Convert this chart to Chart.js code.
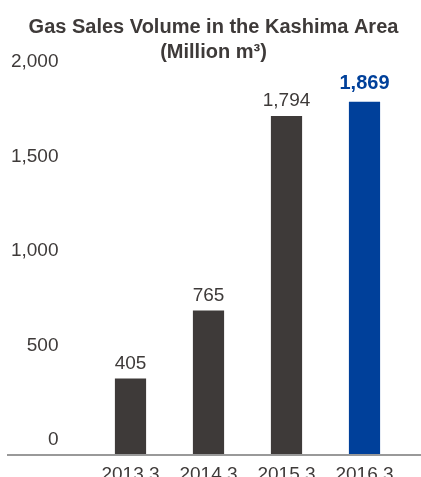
<!DOCTYPE html>
<html>
<head>
<meta charset="utf-8">
<script src="https://cdn.jsdelivr.net/npm/chart.js@4"></script>
<style>
  html, body { margin:0; padding:0; background:#fff; overflow:hidden; }
  canvas { display:block; }
</style>
</head>
<body>
<canvas id="chart" width="421" height="477"></canvas>
<script>
// ── data ──────────────────────────────────────────────────────────────────
const YEARS = ["2013.3", "2014.3", "2015.3", "2016.3"];
const VOLUMES = [405, 765, 1794, 1869];
const Y_TICKS = [0, 500, 1000, 1500, 2000];
const TITLE = ["Gas Sales Volume in the Kashima Area", "(Million m\u00B3)"];

const DARK = "#3e3a39";
const BLUE = "#00409a";
const BAR_COLORS = [DARK, DARK, DARK, BLUE];
const FONT = "'Liberation Sans', Helvetica, Arial, sans-serif";

Chart.defaults.font.family = FONT;
Chart.defaults.color = DARK;

// baseline running past the plot to the right edge
const baseline = {
  id: "baseline",
  afterDraw(chart) {
    const { ctx, scales: { y } } = chart;
    const py = Math.round(y.getPixelForValue(0));
    ctx.save();
    ctx.strokeStyle = "#999999";
    ctx.lineWidth = 2;
    ctx.beginPath();
    ctx.moveTo(7, py);
    ctx.lineTo(chart.width, py);
    ctx.stroke();
    ctx.restore();
  }
};

// value labels over bars
const valueLabels = {
  id: "valueLabels",
  afterDatasetsDraw(chart) {
    const { ctx } = chart;
    const meta = chart.getDatasetMeta(0);
    ctx.save();
    ctx.textAlign = "center";
    ctx.textBaseline = "middle";
    meta.data.forEach((bar, i) => {
      const last = i === VOLUMES.length - 1;
      ctx.font = (last ? "bold 20px " : "19px ") + FONT;
      ctx.fillStyle = last ? BLUE : DARK;
      ctx.fillText(VOLUMES[i].toLocaleString("en-US"), bar.x, bar.y - (last ? 18 : 15));
    });
    ctx.restore();
  }
};

new Chart(document.getElementById("chart"), {
  type: "bar",
  data: {
    labels: YEARS,
    datasets: [{ data: VOLUMES, backgroundColor: BAR_COLORS, barPercentage: 1, categoryPercentage: 0.4 }]
  },
  options: {
    responsive: false,
    animation: false,
    layout: { padding: { left: 6, right: 0, top: 0, bottom: 0 } },
    plugins: {
      legend: { display: false },
      tooltip: { enabled: false },
      title: {
        display: true,
        text: TITLE,
        color: DARK,
        font: { size: 20, weight: "bold", lineHeight: 25 / 20 },
        padding: { top: 15, bottom: 12 }
      }
    },
    scales: {
      x: {
        grid: { display: false, drawTicks: false },
        border: { display: false },
        ticks: { color: DARK, font: { size: 19 }, padding: 8, maxRotation: 0 },
        afterFit: s => { s.height = 22; }
      },
      y: {
        min: 0,
        max: 2000,
        afterBuildTicks: s => { s.ticks = Y_TICKS.map(v => ({ value: v })); },
        grid: { drawOnChartArea: false, drawTicks: true, tickLength: 33, color: "rgba(0,0,0,0)" },
        border: { display: false },
        ticks: {
          color: DARK,
          font: { size: 19 },
          padding: 0,
          labelOffset: -15,
          callback: v => v.toLocaleString("en-US")
        },
        afterFit: s => { s.width = 85.5; }
      },
      // empty right gutter so the title stays centred on the full width
      gutter: {
        position: "right",
        grid: { display: false, drawTicks: false },
        border: { display: false },
        ticks: { display: false },
        afterFit: s => { s.width = 17.5; }
      }
    }
  },
  plugins: [baseline, valueLabels]
});
</script>
</body>
</html>
